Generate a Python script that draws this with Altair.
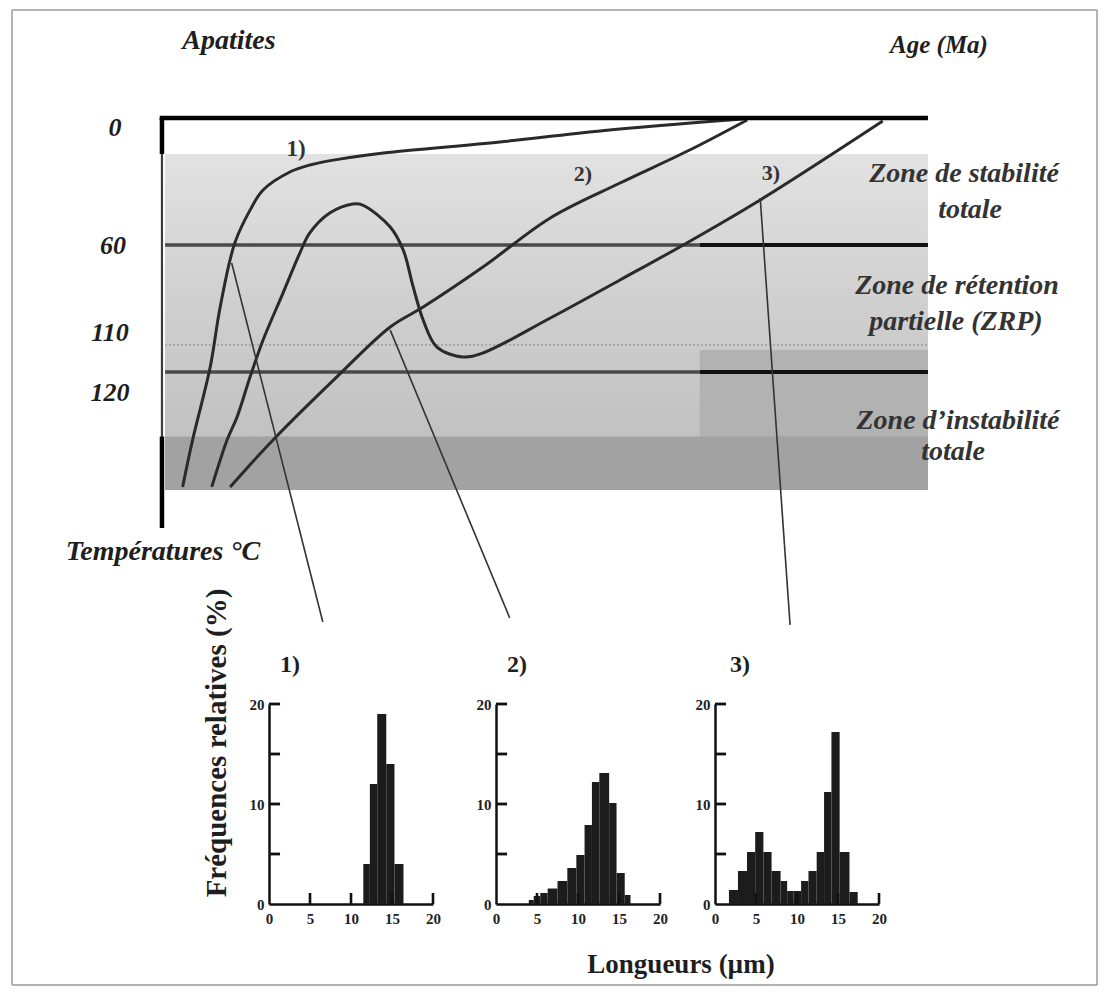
import altair as alt
import pandas as pd

SERIF = "Liberation Serif"

# ---------------- top diagram: temperature-time paths (age in Ma, T in °C) ----------------
path1_age = [24.15, 42.8, 55.9, 71.1, 76.8, 80.7, 83.3, 86.8, 88.5, 90.5, 92.4, 93.7, 96.0, 97.3]
path1_temp = [0.5, 6.1, 11.3, 16.5, 19.4, 22.2, 25.5, 34.0, 43.5, 59.1, 89.3, 117.6, 152.1, 174.3]

path2_age = [23.6, 31.1, 40.2, 49.3, 58.1, 65.9, 70.2, 77.2, 85.5, 91.1]
path2_temp = [0.9, 15.1, 30.7, 47.2, 70.4, 89.3, 98.7, 122.4, 152.1, 174.3]

path3_age = [5.9, 21.9, 32.4, 40.2, 49.3, 58.1, 60.7, 64.1, 65.9, 67.2, 68.5, 70.2, 73.8,
             75.1, 78.1, 80.7, 82.0, 84.2, 86.8, 88.5, 90.2, 91.5, 93.5]
path3_temp = [1.4, 38.7, 60.9, 76.5, 94.5, 111.0, 112.9, 108.2, 95.4, 79.8, 62.4, 51.5, 41.1,
              40.6, 44.9, 54.3, 63.8, 82.7, 104.9, 122.4, 141.3, 152.1, 174.3]

# connectors from each path to its histogram
conn_age_start = [90.9, 70.2, 21.9]
conn_temp_start = [68.5, 100.2, 37.8]
conn_age_end = [79.0, 54.6, 18.0]
conn_temp_end = [238.1, 236.2, 239.5]

# zone boundaries
zone_limits = [60, 120]
partial_line_temp = 107.2
diagram_age_left = 99.6
diagram_age_split = 29.8
grey_temp_top = 17.0
grey_temp_bottom = 175.7
dotted_temp_top = 150.5
right_dark_temp_top = 109.6
axis_age = 100.0
axis_temp_bottom = 193.7

temp_tick_labels = ["0", "60", "110", "120"]
zone_labels = ["Zone de stabilité", "totale", "Zone de rétention", "partielle (ZRP)",
               "Zone d’instabilité", "totale"]
path_labels = ["1)", "2)", "3)"]

# ---------------- histograms: track length distributions ----------------
len_ticks = [0, 5, 10, 15, 20]
freq_ticks = [0, 10, 20]
freq_minor_ticks = [5, 10, 15, 20]

h1_edges = [11.5, 12.3, 13.2, 14.3, 15.3, 16.4]
h1_freq = [4, 12, 19, 14, 4]

h2_edges = [4.0, 4.6, 5.4, 6.3, 7.5, 8.7, 9.8, 10.8, 11.7, 12.6, 13.8, 14.7, 15.7, 16.4]
h2_freq = [0.4, 0.8, 1.1, 1.55, 2.3, 3.6, 4.9, 7.9, 12.2, 13.1, 10.1, 3.1, 0.9]

h3_edges = [1.7, 2.8, 3.9, 4.9, 5.9, 6.9, 8.0, 8.8, 9.6, 10.5, 11.4, 12.4, 13.3, 14.2, 15.2, 16.4, 17.4]
h3_freq = [1.4, 3.3, 5.2, 7.2, 5.2, 3.3, 2.3, 1.3, 1.3, 2.3, 3.3, 5.2, 11.2, 17.2, 5.2, 1.2]

# ======================================================================
XS = alt.Scale(domain=[120.1, -22.2], nice=False, zero=False)
YS = alt.Scale(domain=[-52.0, 241.9], reverse=True, nice=False, zero=False)


def xq(f):
    return alt.X(f, type="quantitative", scale=XS, axis=None)


def yq(f):
    return alt.Y(f, type="quantitative", scale=YS, axis=None)


def label(txt, x, y, size=19, italic=True, bold=True, color="#1e1e1e", align="center", angle=0):
    kw = dict(font=SERIF, fontSize=size, fontWeight="bold" if bold else "normal",
              fontStyle="italic" if italic else "normal", color=color, align=align,
              baseline="middle")
    if angle:
        kw["angle"] = angle
    return alt.Chart(pd.DataFrame({"t": [txt]})).mark_text(**kw).encode(
        text="t:N", x=alt.value(x), y=alt.value(y))


def seg(x1, y1, x2, y2, color="#9a9a9a", width=1.5):
    return alt.Chart(pd.DataFrame({"k": [0]})).mark_rule(color=color, strokeWidth=width).encode(
        x=alt.value(x1), y=alt.value(y1), x2=alt.value(x2), y2=alt.value(y2))


grad = alt.LinearGradient(gradient="linear", x1=0, x2=0, y1=0, y2=1,
                          stops=[alt.GradientStop(color="#e2e2e2", offset=0),
                                 alt.GradientStop(color="#cfcfcf", offset=0.45),
                                 alt.GradientStop(color="#bcbcbc", offset=1)])

band = alt.Chart(pd.DataFrame({"a1": [diagram_age_left], "a2": [0], "t1": [grey_temp_top],
                               "t2": [grey_temp_bottom]})).mark_rect(color=grad).encode(
    x=xq("a1"), x2="a2", y=yq("t1"), y2="t2")
right_dark = alt.Chart(pd.DataFrame({"a1": [diagram_age_split], "a2": [0], "t1": [right_dark_temp_top],
                                     "t2": [grey_temp_bottom]})).mark_rect(color="#b2b2b2").encode(
    x=xq("a1"), x2="a2", y=yq("t1"), y2="t2")
dotted = alt.Chart(pd.DataFrame({"a1": [diagram_age_left], "a2": [0], "t1": [dotted_temp_top],
                                 "t2": [grey_temp_bottom]})).mark_rect(color="#a2a2a2").encode(
    x=xq("a1"), x2="a2", y=yq("t1"), y2="t2")

partial_line = alt.Chart(pd.DataFrame({"a1": [diagram_age_left], "a2": [0], "t": [partial_line_temp]})).mark_rule(
    color="#8a8a8a", strokeWidth=1, strokeDash=[2, 2]).encode(x=xq("a1"), x2="a2", y=yq("t"))

limits_grey = alt.Chart(pd.DataFrame({"t": zone_limits, "a1": diagram_age_left, "a2": diagram_age_split})).mark_rule(
    color="#4a4a4a", strokeWidth=3.5).encode(x=xq("a1"), x2="a2", y=yq("t"))
limits_black = alt.Chart(pd.DataFrame({"t": zone_limits, "a1": diagram_age_split, "a2": 0})).mark_rule(
    color="#111111", strokeWidth=4).encode(x=xq("a1"), x2="a2", y=yq("t"))

top_line = alt.Chart(pd.DataFrame({"a1": [100.3], "a2": [0], "t": [0]})).mark_rule(
    color="#000", strokeWidth=4.5).encode(x=xq("a1"), x2="a2", y=yq("t"))
axis_thin = alt.Chart(pd.DataFrame({"a": [axis_age], "t1": [0], "t2": [axis_temp_bottom]})).mark_rule(
    color="#3c3c3c", strokeWidth=2.2).encode(x=xq("a"), y=yq("t1"), y2="t2")
axis_thick = alt.Chart(pd.DataFrame({"a": [axis_age, axis_age], "t1": [0, dotted_temp_top],
                                     "t2": [grey_temp_top, axis_temp_bottom]})).mark_rule(
    color="#000", strokeWidth=4.5).encode(x=xq("a"), y=yq("t1"), y2="t2")


def path_df(ages, temps, name):
    return pd.DataFrame({"age": ages, "temp": temps, "step": list(range(len(ages))), "path": name})


paths = pd.concat([path_df(path1_age, path1_temp, "1"), path_df(path2_age, path2_temp, "2"),
                   path_df(path3_age, path3_temp, "3")])
curves = alt.Chart(paths).mark_line(interpolate="catmull-rom", strokeWidth=3, color="#2a2a2a").encode(
    x=xq("age"), y=yq("temp"), detail="path:N", order="step:Q")

connectors = alt.Chart(pd.DataFrame({"a1": conn_age_start, "t1": conn_temp_start,
                                     "a2": conn_age_end, "t2": conn_temp_end})).mark_rule(
    color="#333", strokeWidth=1.6).encode(x=xq("a1"), x2="a2", y=yq("t1"), y2="t2")

ZC = "#333333"
texts = [
    label("Apatites", 221, 33, size=28),
    label("Age (Ma)", 931, 37, size=25),
    label(temp_tick_labels[0], 107, 120, size=26),
    label(temp_tick_labels[1], 105, 238, size=26),
    label(temp_tick_labels[2], 102, 325, size=26),
    label(temp_tick_labels[3], 102, 385, size=26),
    label("Températures °C", 155, 544, size=28),
    label(path_labels[0], 288, 141, size=23, italic=False, color="#333"),
    label(path_labels[1], 575, 166, size=22, italic=False, color="#333"),
    label(path_labels[2], 763, 165, size=22, italic=False, color="#333"),
    label(zone_labels[0], 956, 166, size=28, color=ZC),
    label(zone_labels[1], 962, 202, size=28, color=ZC),
    label(zone_labels[2], 949, 278, size=28, color=ZC),
    label(zone_labels[3], 948, 314, size=28, color=ZC),
    label(zone_labels[4], 950, 413, size=28, color=ZC),
    label(zone_labels[5], 945, 444, size=28, color=ZC),
]

frame = [seg(4, 2, 1089, 2), seg(4, 2, 4, 977), seg(1089, 2, 1089, 977), seg(4, 977, 1089, 977)]

top = alt.layer(band, right_dark, dotted, partial_line, limits_grey, limits_black, curves,
                connectors, top_line, axis_thin, axis_thick, *texts, *frame).properties(width=1090, height=622)

# ---------------- histograms ----------------
SX = alt.Scale(domain=[0, 20], nice=False, zero=False)
SY = alt.Scale(domain=[0, 20], nice=False, zero=False)


def histogram(edges, freq, name, name_x, extra=()):
    df = pd.DataFrame({"start": edges[:-1], "end": edges[1:], "freq": freq})
    x_axis = alt.Axis(values=len_ticks, ticks=False, labelPadding=7, labelFont=SERIF, labelFontSize=15,
                      labelFontWeight="bold", labelColor="#222", domainColor="#111", domainWidth=2.5,
                      grid=False, labelFlush=False, title=None)
    y_axis = alt.Axis(values=freq_ticks, ticks=False, labelPadding=5, labelFont=SERIF, labelFontSize=15,
                      labelFontWeight="bold", labelColor="#222", domainColor="#111", domainWidth=2.5,
                      grid=False, title=None, labelFlush=False)
    bars = alt.Chart(df).mark_rect(color="#1c1c1c").encode(
        x=alt.X("start:Q", scale=SX, axis=x_axis), x2="end",
        y=alt.Y("freq:Q", scale=SY, axis=y_axis), y2=alt.datum(0))
    ydf = pd.DataFrame({"yv": freq_minor_ticks})
    xdf = pd.DataFrame({"xv": len_ticks[1:]})
    yt = alt.Chart(ydf).transform_calculate(
        ya="datum.yv - 0.14", yb="datum.yv + 0.14", xa="0", xb="1.35"
    ).mark_rect(color="#111").encode(
        y=alt.Y("ya:Q", scale=SY, axis=y_axis), y2="yb:Q",
        x=alt.X("xa:Q", scale=SX, axis=x_axis), x2="xb:Q")
    xt = alt.Chart(xdf).transform_calculate(
        xa="datum.xv - 0.16", xb="datum.xv + 0.16", ya="0", yb="1.1"
    ).mark_rect(color="#111").encode(
        x=alt.X("xa:Q", scale=SX, axis=x_axis), x2="xb:Q",
        y=alt.Y("ya:Q", scale=SY, axis=y_axis), y2="yb:Q")
    lab = label(name, name_x, -39, size=24, italic=False)
    return alt.layer(bars, yt, xt, lab, *extra).properties(width=164, height=200)


h1 = histogram(h1_edges, h1_freq, path_labels[0], 21)
h2 = histogram(h2_edges, h2_freq, path_labels[1], 21,
               extra=[label("Longueurs (µm)", 185, 261, size=27, italic=False)])
h3 = histogram(h3_edges, h3_freq, path_labels[2], 25)

spacer = label("Fréquences relatives (%)", 209, 39, size=29, italic=False, angle=270).properties(
    width=251, height=200)

bottom = alt.hconcat(spacer, alt.hconcat(h1, alt.hconcat(h2, h3, spacing=55, bounds="flush"),
                                         spacing=63, bounds="flush"),
                     spacing=10, bounds="flush")

chart = alt.vconcat(top, bottom, spacing=74, bounds="flush").properties(
    padding={"left": 0, "top": 0, "right": 0, "bottom": 0}, background="white"
).configure_view(strokeWidth=0)

chart.save("out.html", embed_options={"renderer": "svg", "actions": False})
